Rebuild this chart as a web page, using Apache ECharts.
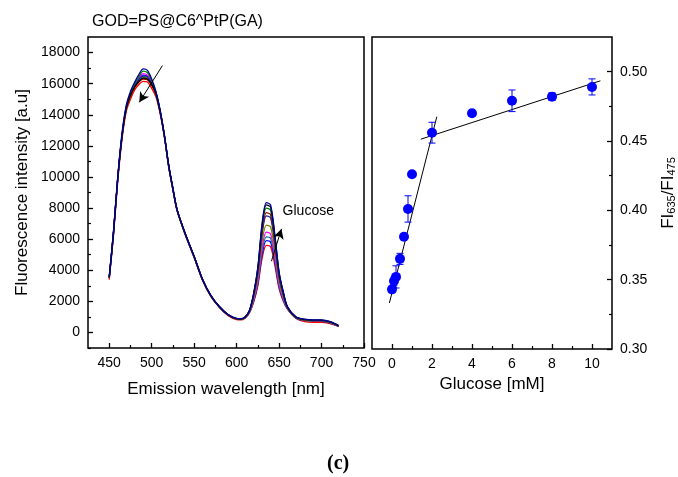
<!DOCTYPE html>
<html><head><meta charset="utf-8">
<script src="https://cdn.jsdelivr.net/npm/echarts@6/dist/echarts.min.js"></script>
<style>html,body{margin:0;padding:0;background:#fff}#c{width:678px;height:477px}</style>
</head><body><div id="c"></div>
<script>
const wavelengths = [450,455,460,465,470,475,480,485,490,495,500,505,510,515,520,525,530,540,550,560,570,580,590,600,605,610,615,620,625,630,635,640,645,650,655,660,670,680,690,700,710,720];
const specRed     = [3400,6200,9700,12400,14200,15000,15600,15950,16150,16100,15700,15150,14050,12550,10650,9150,7800,6200,4800,3330,2280,1580,1080,830,810,920,1250,1940,3000,4760,5600,5510,4320,2820,2000,1480,900,700,650,650,560,380];
const specBlue    = [3520,6400,9900,12620,14420,15300,15900,16300,16550,16480,16050,15350,14180,12600,10700,9200,7840,6250,4850,3370,2320,1620,1120,870,850,950,1270,2000,3130,5000,5900,5800,4540,2930,2070,1510,920,770,720,720,620,400];
const specTeal    = [3500,6380,9880,12600,14400,15250,15850,16250,16450,16400,15980,15320,14170,12600,10700,9200,7840,6250,4850,3370,2320,1620,1120,870,850,950,1280,2050,3240,5210,6150,6050,4720,3030,2120,1520,930,780,730,730,630,400];
const specMagenta = [3530,6420,9920,12650,14450,15350,15950,16400,16650,16550,16100,15400,14200,12620,10720,9220,7850,6260,4860,3380,2330,1630,1130,880,860,960,1300,2110,3370,5450,6450,6340,4930,3150,2190,1540,940,790,740,740,640,410];
const specOlive   = [3500,6350,9850,12550,14350,15200,15800,16150,16400,16350,15950,15300,14150,12600,10700,9200,7840,6250,4850,3370,2320,1620,1120,870,850,960,1320,2200,3570,5820,6900,6780,5260,3330,2280,1560,950,800,750,750,650,410];
const specNavy2   = [3520,6380,9880,12600,14400,15280,15850,16250,16500,16450,16000,15350,14200,12600,10700,9200,7850,6260,4860,3380,2330,1630,1130,880,860,980,1350,2330,3830,6300,7500,7360,5690,3560,2410,1580,960,810,760,760,660,420];
const specWine    = [3500,6350,9850,12550,14350,15200,15750,16100,16300,16250,15900,15300,14150,12600,10700,9200,7850,6250,4850,3370,2320,1620,1120,870,850,970,1360,2370,3920,6470,7700,7570,5830,3640,2460,1590,960,810,760,760,660,420];
const specGreen   = [3550,6450,9950,12700,14500,15400,16000,16450,16800,16700,16200,15450,14250,12650,10750,9250,7870,6270,4870,3390,2340,1640,1140,890,870,990,1380,2430,4050,6710,8000,7850,6050,3760,2520,1610,980,830,780,780,680,430];
const specBlack   = [3550,6400,9900,12600,14400,15250,15800,16150,16350,16300,15950,15350,14200,12650,10750,9250,7870,6280,4880,3390,2340,1640,1140,890,870,990,1390,2470,4140,6880,8200,8060,6190,3840,2570,1630,990,840,790,790,690,440];
const specNavy    = [3600,6500,10000,12800,14600,15500,16100,16600,16950,16850,16300,15500,14300,12700,10800,9300,7900,6300,4900,3400,2350,1650,1150,900,880,1000,1400,2500,4200,7000,8350,8200,6300,3900,2600,1650,1000,850,800,800,700,450];

const glucose = [0,0.1,0.2,0.4,0.6,0.8,1,2,4,6,8,10];
const ratio   = [0.343,0.349,0.352,0.365,0.381,0.401,0.426,0.456,0.470,0.479,0.482,0.489];
const ratioErr= [0.002,0.003,0.008,0.004,0.002,0.0095,0,0.0075,0.002,0.0078,0.0027,0.0058];
const fitLow  = [[-0.13,0.3332],[2.24,0.4675]];
const fitHigh = [[1.44,0.4513],[10.42,0.4934]];

const leftXTicks = [450,500,550,600,650,700,750];
const leftXMinor = [475,525,575,625,675,725];
const leftYTicks = [0,2000,4000,6000,8000,10000,12000,14000,16000,18000];
const leftYMinor = [-1000,1000,3000,5000,7000,9000,11000,13000,15000,17000];
const rightXTicks = [0,2,4,6,8,10];
const rightXMinor = [1,3,5,7,9];
const rightYTicks = [0.30,0.35,0.40,0.45,0.50];
const rightYMinor = [0.325,0.375,0.425,0.475];

const FONT = 'Liberation Sans, Arial, sans-serif';
const spectra = [
  ['red', '#ff0000', specRed],
  ['blue', '#0000ff', specBlue],
  ['teal', '#008080', specTeal],
  ['magenta', '#ff00ff', specMagenta],
  ['olive', '#808000', specOlive],
  ['navy2', '#2020b0', specNavy2],
  ['wine', '#990000', specWine],
  ['green', '#008000', specGreen],
  ['black', '#000000', specBlack],
  ['navy', '#000099', specNavy]
];

const chart = echarts.init(document.getElementById('c'), null, {renderer:'canvas'});

function majorAxis(extra, ticks, fmt){
  return Object.assign({
    type:'value', axisLine:{show:false, onZero:false}, splitLine:{show:false},
    axisTick:{inside:true, length:5, customValues:ticks, lineStyle:{color:'#000', width:1.3}},
    axisLabel:{color:'#000', fontSize:14, fontFamily:FONT, margin:8, customValues:ticks, formatter:fmt || (v=>String(v))},
    nameTextStyle:{color:'#000', fontSize:17, fontFamily:FONT}
  }, extra);
}
function minorAxis(extra, ticks){
  return Object.assign({
    type:'value', axisLine:{show:false, onZero:false}, splitLine:{show:false},
    axisLabel:{show:false},
    axisTick:{inside:true, length:3, customValues:ticks, lineStyle:{color:'#000', width:1.2}}
  }, extra);
}

const series = spectra.map(s => ({
  type:'line', name:s[0], xAxisIndex:0, yAxisIndex:0,
  data: wavelengths.map((w,i)=>[w, s[2][i]]),
  showSymbol:false, smooth:0.3, lineStyle:{color:s[1], width:1.3}, itemStyle:{color:s[1]},
  silent:true, z:2
}));
series.push({
  type:'line', xAxisIndex:0, yAxisIndex:0, data:[], silent:true,
  markLine:{silent:true, symbol:['none','arrow'], symbolSize:[8,10], label:{show:false},
    lineStyle:{color:'#000', width:1, type:'solid'},
    data:[
      [{coord:[512.6,17160]},{coord:[485.4,14800]}],
      [{coord:[641,4580]},{coord:[652.8,6660]}]
    ]},
  markPoint:{silent:true, symbol:'circle', symbolSize:1, itemStyle:{color:'rgba(0,0,0,0)'},
    label:{show:true, position:'inside', formatter:'Glucose', color:'#000', fontSize:14, fontFamily:FONT},
    data:[{coord:[684.4,7780]}]}
});
[fitLow, fitHigh].forEach(f => series.push({
  type:'line', xAxisIndex:2, yAxisIndex:2, data:f, showSymbol:false, silent:true,
  lineStyle:{color:'#000', width:1}, z:2
}));
series.push({
  type:'custom', xAxisIndex:2, yAxisIndex:2, silent:true, z:3,
  data: glucose.map((g,i)=>[g, ratio[i], ratioErr[i]]),
  renderItem:function(params, api){
    const x = api.value(0), y = api.value(1), e = api.value(2);
    if (!e) return null;
    const top = api.coord([x, y+e]), bot = api.coord([x, y-e]);
    const hw = 3.5;
    const st = {stroke:'#0000ff', lineWidth:1};
    return {type:'group', children:[
      {type:'line', shape:{x1:top[0], y1:top[1], x2:bot[0], y2:bot[1]}, style:st},
      {type:'line', shape:{x1:top[0]-hw, y1:top[1], x2:top[0]+hw, y2:top[1]}, style:st},
      {type:'line', shape:{x1:bot[0]-hw, y1:bot[1], x2:bot[0]+hw, y2:bot[1]}, style:st}
    ]};
  }
});
series.push({
  type:'scatter', xAxisIndex:2, yAxisIndex:2, silent:true, z:4,
  data: glucose.map((g,i)=>[g, ratio[i]]),
  symbol:'circle', symbolSize:10, itemStyle:{color:'#0000ff', opacity:1}
});

chart.setOption({
  animation:false,
  backgroundColor:'#fff',
  title:{text:'GOD=PS@C6^PtP(GA)', left:87, top:9, textStyle:{color:'#000', fontSize:16, fontWeight:'normal', fontFamily:FONT}},
  grid:[
    {left:88, top:37, width:276, height:311, show:true, borderColor:'#000', borderWidth:1.5, backgroundColor:'transparent'},
    {left:372, top:37, width:240, height:312, show:true, borderColor:'#000', borderWidth:1.5, backgroundColor:'transparent'}
  ],
  xAxis:[
    majorAxis({gridIndex:0, position:'bottom', min:425, max:750,
      name:'Emission wavelength [nm]', nameLocation:'middle', nameGap:33}, leftXTicks),
    minorAxis({gridIndex:0, position:'bottom', min:425, max:750}, leftXMinor),
    majorAxis({gridIndex:1, position:'bottom', min:-1, max:11,
      name:'Glucose [mM]', nameLocation:'middle', nameGap:26}, rightXTicks),
    minorAxis({gridIndex:1, position:'bottom', min:-1, max:11}, rightXMinor)
  ],
  yAxis:[
    majorAxis({gridIndex:0, position:'left', min:-1000, max:19000,
      name:'Fluorescence intensity [a.u]', nameLocation:'middle', nameGap:57}, leftYTicks),
    minorAxis({gridIndex:0, position:'left', min:-1000, max:19000}, leftYMinor),
    majorAxis({gridIndex:1, position:'right', min:0.30, max:0.525,
      name:'FI{s|635}/FI{s|475}', nameLocation:'middle', nameGap:48, nameRotate:90,
      nameTextStyle:{color:'#000', fontSize:17, fontFamily:FONT, rich:{s:{fontSize:11, fontFamily:FONT, color:'#000', verticalAlign:'bottom', padding:[6,0,0,0]}}}},
      rightYTicks, v=>v.toFixed(2)),
    minorAxis({gridIndex:1, position:'right', min:0.30, max:0.525}, rightYMinor)
  ],
  graphic:[{type:'text', left:327, top:454, style:{text:'(c)', font:'bold 20px "Liberation Serif", serif', fill:'#000'}}],
  series:series
});
</script></body></html>
